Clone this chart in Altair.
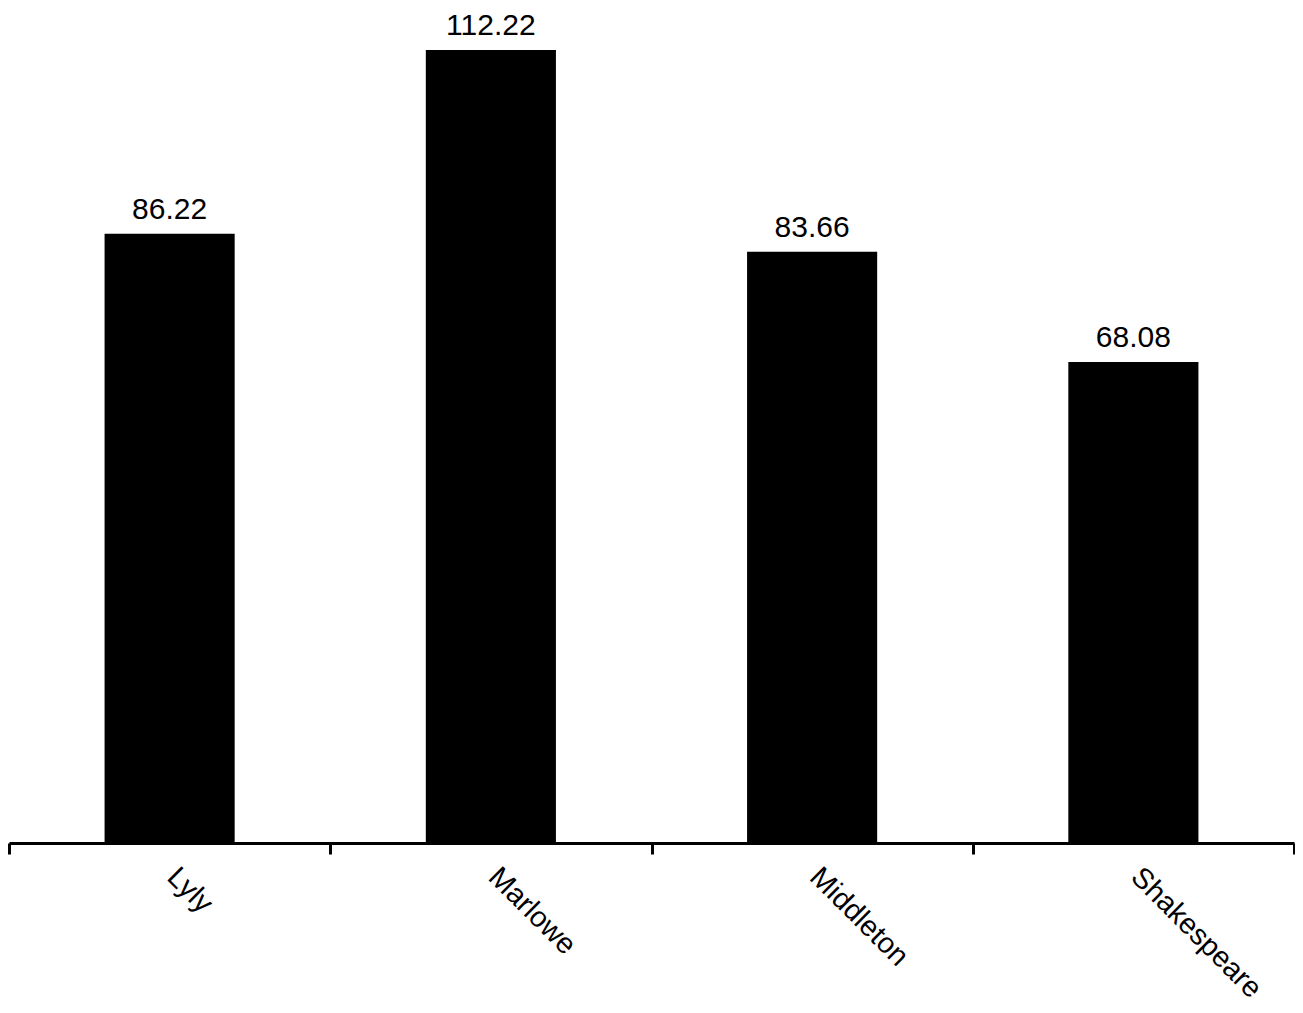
import altair as alt
import pandas as pd

authors = ["Lyly", "Marlowe", "Middleton", "Shakespeare"]
values = [86.22, 112.22, 83.66, 68.08]
labels = ["86.22", "112.22", "83.66", "68.08"]

df = pd.DataFrame({"author": authors, "value": values, "label": labels})

FONT = "Liberation Sans"

x = alt.X(
    "author:N",
    sort=authors,
    title=None,
    scale=alt.Scale(paddingInner=0, paddingOuter=0),
    axis=alt.Axis(
        tickBand="extent",
        labelAngle=45,
        labelAlign="left",
        labelBaseline="top",
        labelFont=FONT,
        labelFontSize=29,
        labelColor="black",
        labelPadding=8,
        labelOffset=12,
        domainColor="black",
        domainWidth=3,
        tickColor="black",
        tickWidth=3,
        tickSize=11,
        grid=False,
    ),
)
y = alt.Y(
    "value:Q",
    title=None,
    scale=alt.Scale(domain=[0, 112.22], nice=False),
    axis=None,
)

bars = alt.Chart(df).mark_bar(color="black", width={"band": 0.405}).encode(x=x, y=y)
text = alt.Chart(df).mark_text(
    font=FONT, fontSize=30, color="black", baseline="alphabetic", dy=-15
).encode(x=x, y=y, text="label:N")

chart = (
    alt.layer(bars, text)
    .properties(width=1285, height=793, background="white",
                autosize=alt.AutoSizeParams(type="none"),
                padding={"left": 1, "top": 42, "right": 1, "bottom": 162})
    .configure_view(stroke="transparent", strokeWidth=0)
)

chart.save("out.html", embed_options={"renderer": "svg", "actions": False})
